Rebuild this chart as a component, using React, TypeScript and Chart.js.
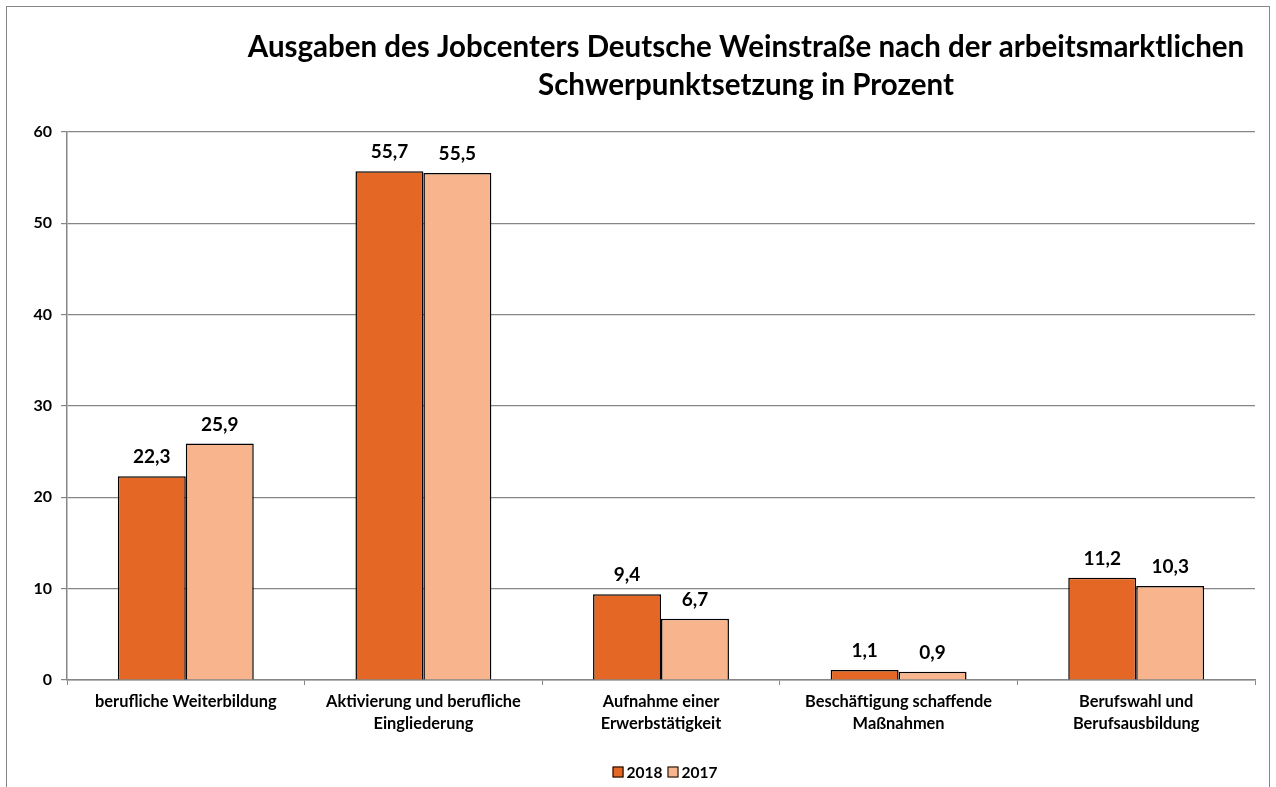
import React, { useEffect, useRef } from "react";
import { Chart, registerables } from "chart.js";

Chart.register(...registerables);

const categories: (string | string[])[] = [
  "berufliche Weiterbildung",
  ["Aktivierung und berufliche", "Eingliederung"],
  ["Aufnahme einer", "Erwerbstätigkeit"],
  ["Beschäftigung schaffende", "Maßnahmen"],
  ["Berufswahl und", "Berufsausbildung"],
];
const values2018 = [22.3, 55.7, 9.4, 1.1, 11.2];
const values2017 = [25.9, 55.5, 6.7, 0.9, 10.3];
const seriesNames = ["2018", "2017"];
const titleLines = [
  "Ausgaben des Jobcenters Deutsche Weinstraße nach der arbeitsmarktlichen",
  "Schwerpunktsetzung in Prozent",
];

const FONT = "Lato, 'Open Sans', sans-serif";
const GREY = "#868686";

const framePlugin = {
  id: "frame",
  beforeDraw(chart: any) {
    const ctx = chart.ctx;
    ctx.save();
    ctx.fillStyle = "#fff";
    ctx.fillRect(0, 0, chart.width, chart.height);
    ctx.strokeStyle = GREY;
    ctx.lineWidth = 1;
    ctx.strokeRect(6.5, 6.5, 1263, 820);
    ctx.restore();
  },
};

const titlePlugin = {
  id: "customTitle",
  afterDraw(chart: any) {
    const ctx = chart.ctx;
    ctx.save();
    ctx.fillStyle = "#000";
    ctx.font = `bold 29.5px ${FONT}`;
    ctx.textAlign = "center";
    ctx.textBaseline = "middle";
    titleLines.forEach((line, i) => {
      ctx.fillText(line, 746, 47 + i * 38);
    });
    ctx.restore();
  },
};

const labelPlugin = {
  id: "valueLabels",
  afterDatasetsDraw(chart: any) {
    const ctx = chart.ctx;
    ctx.save();
    ctx.fillStyle = "#000";
    ctx.font = `bold 19px ${FONT}`;
    ctx.textAlign = "center";
    ctx.textBaseline = "middle";
    chart.data.datasets.forEach((ds: any, di: number) => {
      const meta = chart.getDatasetMeta(di);
      meta.data.forEach((bar: any, i: number) => {
        const v = ds.data[i] as number;
        ctx.fillText(v.toFixed(1).replace(".", ","), bar.x, bar.y - 19);
      });
    });
    ctx.restore();
  },
};

const legendPlugin = {
  id: "customLegend",
  afterDraw(chart: any) {
    const ctx = chart.ctx;
    ctx.save();
    ctx.font = `bold 15.5px ${FONT}`;
    ctx.textBaseline = "middle";
    const box = 11;
    const gap = 3;
    const itemGap = 5;
    const items = chart.data.datasets.map((ds: any) => ({
      label: ds.label,
      color: ds.backgroundColor,
      w: box + gap + ctx.measureText(ds.label).width,
    }));
    const total =
      items.reduce((s: number, it: any) => s + it.w, 0) + itemGap * (items.length - 1);
    let x = 665 - total / 2;
    const y = 772;
    items.forEach((it: any) => {
      ctx.fillStyle = it.color;
      ctx.fillRect(x, y - box / 2, box, box);
      ctx.strokeStyle = "#000";
      ctx.lineWidth = 1;
      ctx.strokeRect(x + 0.5, y - box / 2 + 0.5, box - 1, box - 1);
      ctx.fillStyle = "#000";
      ctx.textAlign = "left";
      ctx.fillText(it.label, x + box + gap, y + 1);
      x += it.w + itemGap;
    });
    ctx.restore();
  },
};

export default function App() {
  const ref = useRef<HTMLCanvasElement | null>(null);
  useEffect(() => {
    if (!ref.current) return;
    const chart = new Chart(ref.current, {
      type: "bar",
      data: {
        labels: categories,
        datasets: [
          {
            label: seriesNames[0],
            data: values2018,
            backgroundColor: "#E46726",
            borderColor: "#000",
            borderWidth: 1.5,
            categoryPercentage: 0.572,
            barPercentage: 1,
          },
          {
            label: seriesNames[1],
            data: values2017,
            backgroundColor: "#F8B48C",
            borderColor: "#000",
            borderWidth: 1.5,
            categoryPercentage: 0.572,
            barPercentage: 1,
          },
        ],
      },
      options: {
        responsive: false,
        animation: false,
        layout: { padding: { top: 132, right: 21, left: 0, bottom: 0 } },
        plugins: {
          legend: { display: false },
          title: { display: false },
          tooltip: { enabled: false },
        },
        scales: {
          x: {
            afterFit(scale: any) {
              scale.height = 107;
            },
            grid: {
              display: true,
              drawOnChartArea: false,
              drawTicks: true,
              tickLength: 5,
              color: GREY,
              offset: true,
            },
            border: { color: GREY, width: 1.5 },
            ticks: {
              color: "#000",
              font: { family: FONT, size: 16.4, weight: "bold", lineHeight: 1.35 },
              padding: 6,
              maxRotation: 0,
              autoSkip: false,
            },
          },
          y: {
            min: 0,
            max: 60,
            afterFit(scale: any) {
              scale.width = 67;
            },
            grid: {
              color: GREY,
              lineWidth: 1.2,
              tickLength: 6,
              drawTicks: true,
            },
            border: { color: GREY, width: 1.5 },
            ticks: {
              stepSize: 10,
              color: "#000",
              font: { family: FONT, size: 16, weight: "bold" },
              padding: 9,
            },
          },
        },
      },
      plugins: [framePlugin, titlePlugin, labelPlugin, legendPlugin],
    });
    return () => chart.destroy();
  }, []);
  return (
    <div style={{ position: "absolute", left: 0, top: 0, width: 1276, height: 787 }}>
      <canvas ref={ref} width={1276} height={787} />
    </div>
  );
}
